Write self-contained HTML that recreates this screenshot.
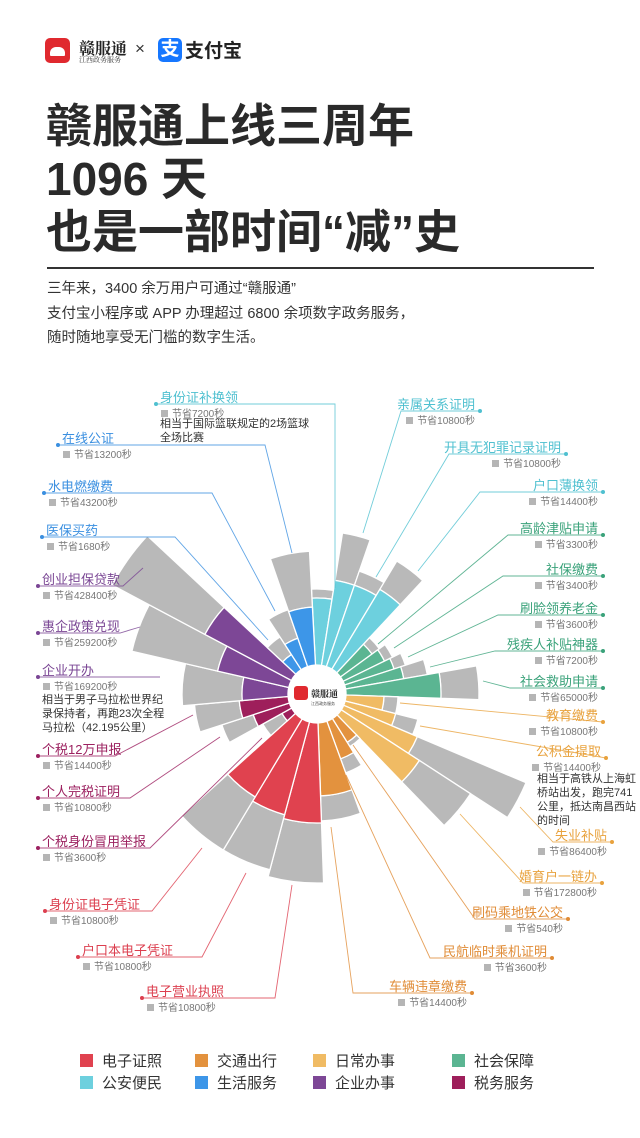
<!DOCTYPE html>
<html><head><meta charset="utf-8"><style>
html,body{margin:0;padding:0;background:#fff;}
body{width:640px;height:1138px;position:relative;overflow:hidden;font-family:"Liberation Sans","Noto Sans CJK SC",sans-serif;color:#333;}
.a{position:absolute;white-space:nowrap;}
</style></head><body>
<div class="a" style="left:45px;top:38px;width:25px;height:25px;background:#e0292f;border-radius:5px;"></div>
<div class="a" style="left:50px;top:47px;width:15px;height:9px;background:#fff;border-radius:6px 6px 1px 1px;"></div>
<div class="a" style="left:79px;top:36px;font-family:'Noto Serif CJK SC',serif;font-weight:bold;font-size:16px;color:#222;">赣服通</div>
<div class="a" style="left:79px;top:55px;font-family:'Noto Serif CJK SC',serif;font-size:7px;color:#333;">江西政务服务</div>
<div class="a" style="left:135px;top:39px;font-size:17px;color:#333;">×</div>
<div class="a" style="left:158px;top:38px;width:24px;height:24px;background:#1677ff;border-radius:5px;color:#fff;font-size:19px;font-weight:bold;line-height:24px;text-align:center;">支</div>
<div class="a" style="left:185px;top:36px;font-size:19px;font-weight:bold;color:#222;">支付宝</div>
<div class="a" style="left:46px;top:100px;font-size:46px;font-weight:bold;color:#2a2a2a;line-height:53px;">赣服通上线三周年<br>1096 天<br>也是一部时间“减”史</div>
<div class="a" style="left:47px;top:267px;width:547px;height:2px;background:#333;"></div>
<div class="a" style="left:47px;top:277px;font-size:14.5px;line-height:24.5px;color:#333;">三年来，3400 余万用户可通过“赣服通”<br>支付宝小程序或 APP 办理超过 6800 余项数字政务服务，<br>随时随地享受无门槛的数字生活。</div>
<svg id="s" class="a" style="left:0;top:0" width="640" height="1138" xmlns="http://www.w3.org/2000/svg"></svg>
<div id="lab"></div>
<script>
var C={cy:'#6dd0de',gr:'#5bb592',ye:'#f0bb64',or:'#e3923e',re:'#e0424f',ma:'#9e1f5b',pu:'#7d4796',bl:'#3d96e8'};
var T={cy:'#4fc0d0',gr:'#3aa27a',ye:'#e8a23d',or:'#e08b35',re:'#dc3f4f',ma:'#9c2160',pu:'#7a4694',bl:'#3a8fe0'};
var cx=317,cy=694,r0=29;
var B=[[-3,9,'cy',96,105],[9,19,'cy',115,163],[19,31,'cy',115,130],[31,43,'cy',122,155],
[43,54,'gr',68,77],[54,64,'gr',75,84],[64,72,'gr',81,93],[72,80,'gr',88,112],[80,92,'gr',124,162],
[92,104,'ye',67,81],[104,113,'ye',81,104],[113,123,'ye',109,227],[123,136,'ye',122,183],
[136,148,'or',57,62],[148,160,'or',69,84],[160,178,'or',102,127],
[178,195,'re',129,189],[195,211,'re',125,182],[211,228,'re',120,182],
[228,241,'ma',40,62],[241,252,'ma',67,100],[252,265,'ma',78,123],
[265,283,'pu',75,135],[283,298,'pu',102,190],[298,313,'pu',127,232],
[313,327,'bl',47,68],[327,341,'bl',59,89],[341,357,'bl',87,143]];
function P(a,r){var t=a*Math.PI/180;return (cx+r*Math.sin(t)).toFixed(1)+','+(cy-r*Math.cos(t)).toFixed(1);}
function W(a1,a2,ri,ro,col){var la=(a2-a1)>180?1:0;return '<path d="M'+P(a1,ri)+' L'+P(a1,ro)+' A'+ro+','+ro+' 0 '+la+' 1 '+P(a2,ro)+' L'+P(a2,ri)+' A'+ri+','+ri+' 0 '+la+' 0 '+P(a1,ri)+' Z" fill="'+col+'" stroke="#fff" stroke-width="1.3"/>';}
var h='';
B.forEach(function(b){h+=W(b[0],b[1],b[3],b[4],'#b9b9b9');h+=W(b[0],b[1],r0,b[3],C[b[2]]);});
h+='<circle cx="'+cx+'" cy="'+cy+'" r="'+r0+'" fill="#fff"/>';
h+='<rect x="294" y="686" width="14" height="14" rx="3" fill="#e0292f"/><text x="311" y="697" font-size="9" font-weight="bold" font-family="Noto Serif CJK SC,serif" fill="#222">赣服通</text><text x="311" y="705" font-size="4" fill="#444" font-family="Noto Sans CJK SC,sans-serif">江西政务服务</text>';
var L=[
['l','身份证补换领','节省7200秒',156,404,[[335,404],[335,588]],'cy'],
['l','在线公证','节省13200秒',58,445,[[265,445],[292,553]],'bl'],
['l','水电燃缴费','节省43200秒',44,493,[[212,493],[275,611]],'bl'],
['l','医保买药','节省1680秒',42,537,[[175,537],[268,640]],'bl'],
['l','创业担保贷款','节省428400秒',38,586,[[123,586],[143,568]],'pu'],
['l','惠企政策兑现','节省259200秒',38,633,[[120,633],[140,627]],'pu'],
['l','企业开办','节省169200秒',38,677,[[160,677]],'pu'],
['l','个税12万申报','节省14400秒',38,756,[[115,756],[193,715]],'ma'],
['l','个人完税证明','节省10800秒',38,798,[[130,798],[220,737]],'ma'],
['l','个税身份冒用举报','节省3600秒',38,848,[[150,848],[262,738]],'ma'],
['l','身份证电子凭证','节省10800秒',45,911,[[152,911],[202,848]],'re'],
['l','户口本电子凭证','节省10800秒',78,957,[[202,957],[246,873]],'re'],
['l','电子营业执照','节省10800秒',142,998,[[275,998],[292,885]],'re'],
['r','亲属关系证明','节省10800秒',480,411,[[401,411],[363,533]],'cy'],
['r','开具无犯罪记录证明','节省10800秒',566,454,[[449,454],[376,577]],'cy'],
['r','户口薄换领','节省14400秒',603,492,[[480,492],[418,571]],'cy'],
['r','高龄津贴申请','节省3300秒',603,535,[[508,535],[378,644]],'gr'],
['r','社保缴费','节省3400秒',603,576,[[503,576],[394,648]],'gr'],
['r','刷脸领养老金','节省3600秒',603,615,[[498,615],[408,657]],'gr'],
['r','残疾人补贴神器','节省7200秒',603,651,[[495,651],[430,667]],'gr'],
['r','社会救助申请','节省65000秒',603,688,[[510,688],[483,681]],'gr'],
['r','教育缴费','节省10800秒',603,722,[[400,703]],'ye'],
['r','公积金提取','节省14400秒',606,758,[[420,726]],'ye'],
['r','失业补贴','节省86400秒',612,842,[[553,842],[520,807]],'ye'],
['r','婚育户一链办','节省172800秒',602,883,[[523,883],[460,814]],'ye'],
['r','刷码乘地铁公交','节省540秒',568,919,[[475,919],[353,745]],'or'],
['r','民航临时乘机证明','节省3600秒',552,958,[[430,958],[346,775]],'or'],
['r','车辆违章缴费','节省14400秒',472,993,[[353,993],[331,827]],'or']];
var d='';
L.forEach(function(l){var x=l[3],y=l[4],col=T[l[6]];
 var pts=x+','+y+' '+l[5].map(function(p){return p.join(',')}).join(' ');
 h+='<polyline points="'+pts+'" fill="none" stroke="'+col+'" stroke-width="0.9" opacity="0.8"/><circle cx="'+x+'" cy="'+y+'" r="2" fill="'+col+'"/>';
 var fs='font-size:13px;color:'+col+';';
 if(l[0]=='l'){
  d+='<div class="a" style="left:'+(x+4)+'px;top:'+(y-17)+'px;'+fs+'">'+l[1]+'</div>';
  d+='<div class="a" style="left:'+(x+5)+'px;top:'+(y+1)+'px;font-size:10px;color:#777;"><span style="display:inline-block;width:7px;height:7px;background:#b5b5b5;margin-right:4px;"></span>'+l[2]+'</div>';
 }else{
  d+='<div class="a" style="right:'+(640-x+5)+'px;top:'+(y-17)+'px;'+fs+'">'+l[1]+'</div>';
  d+='<div class="a" style="right:'+(640-x+5)+'px;top:'+(y+1)+'px;font-size:10px;color:#777;"><span style="display:inline-block;width:7px;height:7px;background:#b5b5b5;margin-right:4px;"></span>'+l[2]+'</div>';
 }
});
document.getElementById('s').innerHTML=h;
d+='<div class="a" style="left:160px;top:417px;font-size:11px;line-height:14px;color:#333;">相当于国际篮联规定的2场篮球<br>全场比赛</div>';
d+='<div class="a" style="left:42px;top:693px;font-size:11px;line-height:14px;color:#333;">相当于男子马拉松世界纪<br>录保持者，再跑23次全程<br>马拉松（42.195公里）</div>';
d+='<div class="a" style="left:537px;top:772px;font-size:11px;line-height:14px;color:#333;">相当于高铁从上海虹<br>桥站出发，跑完741<br>公里，抵达南昌西站<br>的时间</div>';
var G=[['电子证照','re',80,1054],['交通出行','or',195,1054],['日常办事','ye',313,1054],['社会保障','gr',452,1054],
['公安便民','cy',80,1076],['生活服务','bl',195,1076],['企业办事','pu',313,1076],['税务服务','ma',452,1076]];
G.forEach(function(g){d+='<div class="a" style="left:'+g[2]+'px;top:'+g[3]+'px;width:13px;height:13px;background:'+C[g[1]]+';"></div><div class="a" style="left:'+(g[2]+22)+'px;top:'+(g[3]-4)+'px;font-size:15px;color:#333;">'+g[0]+'</div>';});
document.getElementById('lab').innerHTML=d;
</script>
</body></html>
